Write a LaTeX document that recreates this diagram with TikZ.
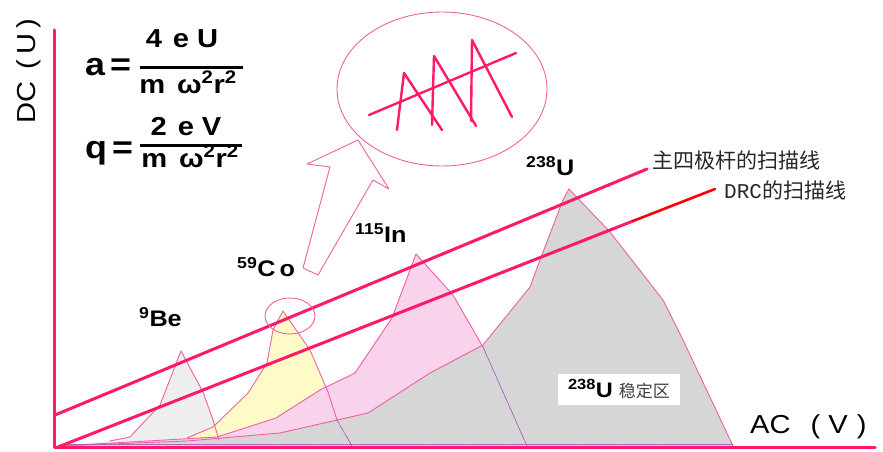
\documentclass[tikz,border=0pt]{standalone}
\usepackage{fontspec}
\setmainfont{Liberation Sans}[FakeStretch=1.12]
\newfontfamily\cjk{Noto Sans CJK SC}
\newfontfamily\drcfont{Liberation Mono}
\definecolor{scanpink}{RGB}{255,25,105}
\definecolor{edgepink}{RGB}{240,95,165}
\definecolor{edgeviolet}{RGB}{170,90,190}
\definecolor{uzone}{RGB}{214,214,214}
\definecolor{inzone}{RGB}{249,210,236}
\definecolor{cozone}{RGB}{255,251,200}
\definecolor{bezone}{RGB}{238,238,238}
\newcommand\iso[2]{\textsuperscript{#1}#2}
\begin{document}
\begin{tikzpicture}[x=1pt,y=-1pt,line cap=round,line join=round,
  scan/.style={draw=scanpink,line width=3pt},
  edge/.style={draw=edgepink,line width=0.9pt},
  edgedot/.style={draw=edgeviolet,line width=0.9pt,densely dotted},
  zig/.style={draw=scanpink,line width=2.4pt},
  peaklabel/.style={anchor=base west,inner sep=0pt,font=\fontsize{22.5}{22.5}\selectfont\bfseries},
  formula/.style={anchor=base,inner sep=0pt,font=\fontsize{26}{26}\selectfont\bfseries},
  scanlabel/.style={anchor=west,inner sep=0pt,text=black!85,font=\fontsize{21}{21}\selectfont}]
  \useasboundingbox (0,0) rectangle (883,452);
  \coordinate (O) at (56,447);

  % Stability regions
  \fill[bezone] (60,446) -- (110,441) -- (130,437) -- (160,405) -- (181,351)
    -- (203,392) -- (213,420) -- (221,446) -- cycle;
  \fill[cozone] (60,446) -- (187,438) -- (213,427) -- (248,393) -- (267,363)
    -- (273,330) -- (283,311) -- (310,350) -- (328,392) -- (352,446) -- cycle;
  \fill[inzone] (60,446) -- (217,437) -- (276,418) -- (320,390) -- (355,373)
    -- (392,318) -- (416,254) -- (453,295) -- (483,347) -- (527,446) -- cycle;
  \fill[uzone] (60,446) -- (187,441) -- (280,433) -- (368,413) -- (430,373)
    -- (483,345) -- (530,287) -- (540,260) -- (563,200) -- (569,189)
    -- (610,232) -- (663,300) -- (683,340) -- (733,446) -- cycle;

  % Region edges
  \draw[edge] (110,441) -- (130,437) -- (160,405) -- (181,351) -- (203,392) -- (213,420) -- (219,440);
  \draw[edge] (187,438) -- (213,427) -- (248,393) -- (267,363) -- (273,330)
    -- (283,311) -- (310,350) -- (328,392) -- (337,420);
  \draw[edge] (60,446) -- (217,437) -- (276,418) -- (320,390) -- (355,373)
    -- (392,318) -- (416,254) -- (453,295) -- (483,347);
  \draw[edge] (60,446) -- (187,441) -- (280,433) -- (368,413) -- (430,373)
    -- (483,345) -- (530,287) -- (540,260) -- (563,200) -- (569,189)
    -- (610,232) -- (663,300) -- (683,340) -- (733,446);
  \draw[edgedot] (337,420) -- (352,446);
  \draw[edgedot] (483,347) -- (527,446);
  \draw[edgedot] (60,444) -- (733,444);

  % Axes
  \draw[scan] (54,30) -- (54,447) -- (875,447);

  % Scan lines
  \coordinate (S1) at (55,415);
  \coordinate (S1e) at (647,169);
  \coordinate (S2) at (58,447);
  \coordinate (S2r) at (633,221);
  \coordinate (S2e) at (715,189);
  \draw[scan] (S1) -- (S1e);
  \draw[scan] (S2) -- (S2r);
  \draw[draw=red,line width=2.6pt] (S2r) -- (S2e);

  % Zoom ellipse and hollow arrow
  \draw[edge] (290,316) ellipse (25 and 18);
  \draw[edge] (442,89) ellipse (105 and 77);
  \draw[edge,fill=white] (303,268) -- (330,167) -- (307,164) -- (358,140)
    -- (389,189) -- (373,180) -- (318,275) -- cycle;

  % Zigzag in the zoom
  \draw[zig] (397,130) -- (404,73) -- (442,130);
  \draw[zig] (432,125) -- (434,56) -- (476,126);
  \draw[zig] (471,121) -- (472,40) -- (512,117);
  \draw[zig] (369,115) -- (516,53);

  % Formulas
  \node[anchor=base west,inner sep=0pt,font=\fontsize{32}{32}\selectfont\bfseries] (lhsA) at (85,75) {a\hspace{5pt}=};
  \node[formula] (numA) at (182,48) {4\hspace{11pt}e\hspace{8pt}U};
  \draw[line width=3pt,line cap=butt] (140,68) -- (243,68);
  \node[formula] (denA) at (188,93) {m\hspace{12pt}ω\textsuperscript{2}r\textsuperscript{2}};
  \node[anchor=base west,inner sep=0pt,font=\fontsize{32}{32}\selectfont\bfseries] (lhsB) at (85,158) {q\hspace{5pt}=};
  \node[formula] (numB) at (186,135) {2\hspace{11pt}e\hspace{8pt}V};
  \draw[line width=3pt,line cap=butt] (140,145) -- (242,145);
  \node[formula] (denB) at (190,167) {m\hspace{12pt}ω\textsuperscript{2}r\textsuperscript{2}};

  % Axis labels
  \node[rotate=90,inner sep=0pt,font=\fontsize{26}{26}\selectfont] (dc) at (29,71) {DC\hspace{12pt}(\hspace{5pt}U\hspace{5pt})};
  \node[anchor=base west,inner sep=0pt,font=\fontsize{26}{26}\selectfont] (ac) at (750,433) {AC\hspace{20pt}(\hspace{8pt}V\hspace{9pt})};

  % Peak labels
  \node[peaklabel] (be) at (139,326) {\iso{9}{Be}};
  \node[peaklabel] (co) at (237,276) {\iso{59}{C\hspace{4pt}o}};
  \node[peaklabel] (in) at (355,242) {\iso{115}{In}};
  \node[peaklabel] (u) at (526,175) {\iso{238}{U}};
  \node[fill=white,minimum width=122pt,minimum height=31pt,inner sep=0pt] (ustable) at (619,389)
    {\fontsize{21}{21}\selectfont\bfseries\iso{238}{U}\hspace{6pt}{\cjk\mdseries\color{black!75}\fontsize{17}{17}\selectfont 稳定区}};

  % Scan line labels
  \node[scanlabel] (mainlabel) at (652,160) {\cjk 主四极杆的扫描线};
  \node[scanlabel] (drclabel) at (724,190) {\drcfont DRC\cjk 的扫描线};
\end{tikzpicture}
\end{document}
